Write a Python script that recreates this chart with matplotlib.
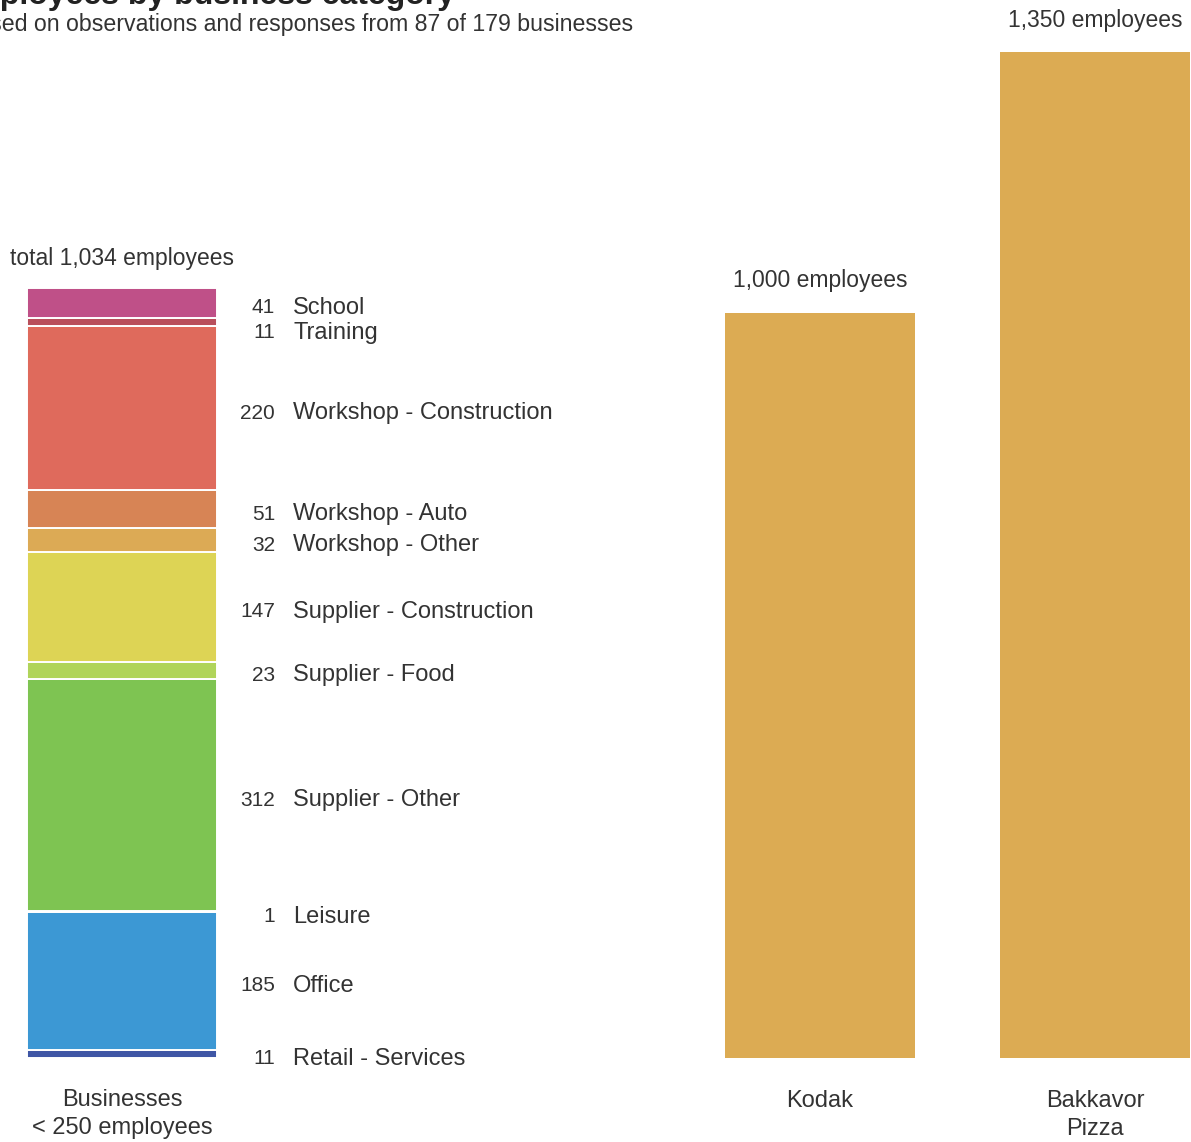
import matplotlib
matplotlib.use("Agg")
import matplotlib.pyplot as plt

# stacked bar, top to bottom
categories = ["School", "Training", "Workshop - Construction", "Workshop - Auto",
              "Workshop - Other", "Supplier - Construction", "Supplier - Food",
              "Supplier - Other", "Leisure", "Office", "Retail - Services"]
employees = [41, 11, 220, 51, 32, 147, 23, 312, 1, 185, 11]
seg_colors = ["#BF5088", "#B94F5C", "#DF6A5C", "#D78455", "#DCAA55", "#DDD455",
              "#B0D45A", "#7EC452", "#4BB5A0", "#3C98D4", "#3F56A5"]

big_names = ["Kodak", "Bakkavor\nPizza"]
big_values = [1000, 1350]
big_color = "#DCAB53"

stack_name = "Businesses\n< 250 employees"
title = "Employees by business category"
subtitle = "Based on observations and responses from 87 of 179 businesses"

TXT = "#333333"
W, H = 1191, 1142
PX_PER_UNIT = 0.745
BASE_PX = 84          # baseline distance from bottom edge in px
PT = 72 / 100         # points per pixel at dpi 100

plt.rcParams["font.family"] = ["Liberation Sans", "DejaVu Sans"]

fig = plt.figure(figsize=(W / 100, H / 100), dpi=100)
ax = fig.add_axes([0, 0, 1, 1])
ax.set_xlim(0, W)
ax.set_ylim(-BASE_PX / PX_PER_UNIT, (H - BASE_PX) / PX_PER_UNIT)
ax.axis("off")

bar_w = 190
x_stack, x_kodak, x_bakk = 122, 820, 1095

# stacked bar (drawn bottom-up)
total = sum(employees)
bottom = 0
centers = {}
for name, val, col in reversed(list(zip(categories, employees, seg_colors))):
    ax.bar(x_stack, val, bottom=bottom, width=bar_w, color=col,
           edgecolor="white", linewidth=1.4)
    centers[name] = bottom + val / 2
    bottom += val

# label positions in px from top, pushed apart where they would overlap
label_px = []
prev = -1e9
for name in categories:
    py = H - BASE_PX - centers[name] * PX_PER_UNIT + 5
    py = max(py, prev + 25)
    label_px.append(py)
    prev = py

for name, val, py in zip(categories, employees, label_px):
    fy = 1 - py / H
    fig.text(275 / W, fy, f"{val}", ha="right", va="center", fontsize=15, color=TXT)
    fig.text(293 / W, fy, name, ha="left", va="center", fontsize=17, color=TXT)

ax.annotate(f"total {total:,} employees", (x_stack, total), xytext=(0, 29 * PT),
            textcoords="offset points", ha="center", va="center", fontsize=16.5, color=TXT)
ax.annotate(stack_name, (x_stack, 0), xytext=(0, -31 * PT), textcoords="offset points",
            ha="center", va="top", fontsize=17, color=TXT, linespacing=1.35)

# large single employers
for xc, name, val in zip([x_kodak, x_bakk], big_names, big_values):
    ax.bar(xc, val, width=bar_w, color=big_color, linewidth=0)
    ax.annotate(f"{val:,} employees", (xc, val), xytext=(0, 32 * PT),
                textcoords="offset points", ha="center", va="center", fontsize=16.5, color=TXT)
    ax.annotate(name, (xc, 0), xytext=(0, -32 * PT), textcoords="offset points",
                ha="center", va="top", fontsize=17, color=TXT, linespacing=1.35)

# title and subtitle run off the left / top edges in the reference crop
fig.text(455 / W, 1 - 4 / H, title, ha="right", va="baseline", fontsize=23,
         fontweight="bold", color="#222222")
fig.text(633 / W, 1 - 31 / H, subtitle, ha="right", va="baseline", fontsize=16.7, color=TXT)

fig.savefig("out.png", dpi=100)
